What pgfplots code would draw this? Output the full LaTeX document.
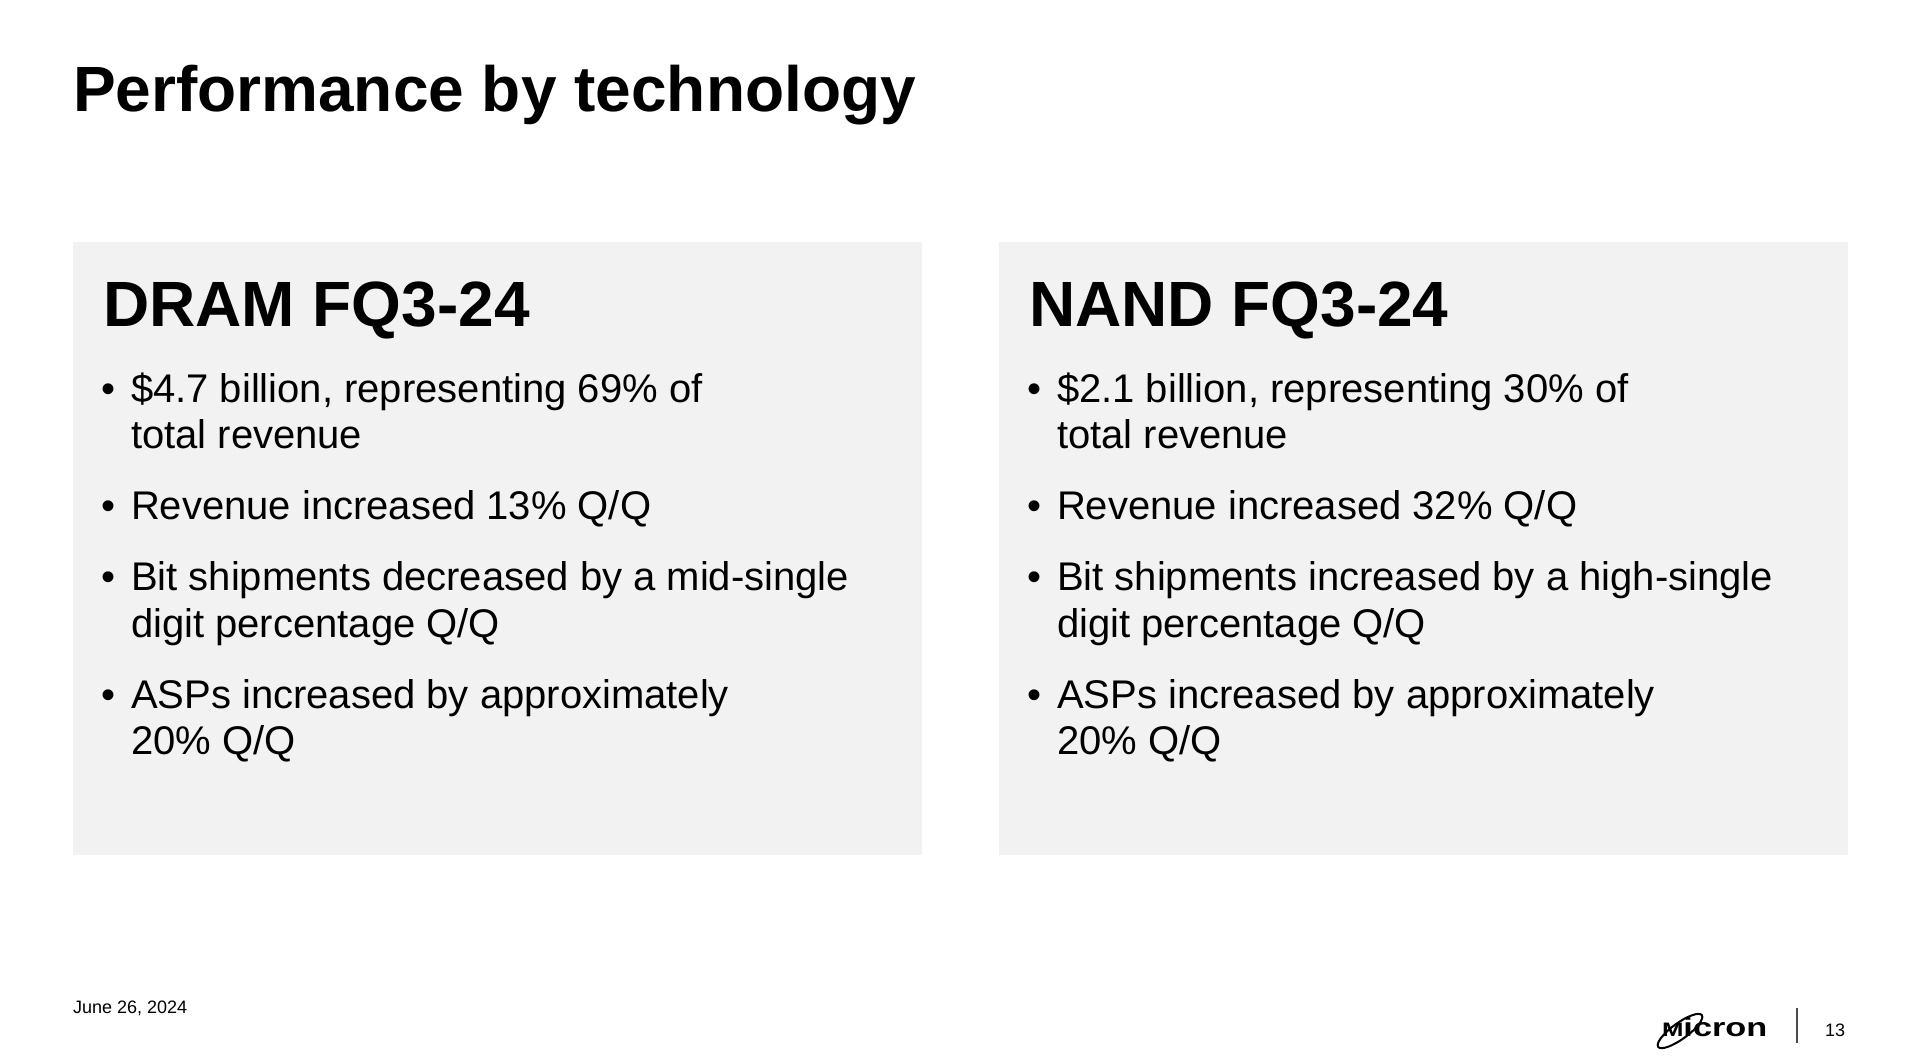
\documentclass[border=0pt]{standalone}
\usepackage{pgfplots}
\pgfplotsset{compat=1.18}
\usepackage{fontspec}
\setmainfont{Liberation Sans}
\definecolor{boxgray}{HTML}{F2F2F2}
\newcommand\tfont{\fontsize{32pt}{38pt}\selectfont\bfseries}
\newcommand\bfont{\fontsize{20pt}{23pt}\selectfont}
\tikzset{tx/.style={anchor=base west,inner sep=0pt,outer sep=0pt}}
\begin{document}
\begin{tikzpicture}
\begin{axis}[width=960pt,height=531pt,scale only axis,
  xmin=0,xmax=1920,ymin=0,ymax=1062,y dir=reverse,hide axis,clip=false]
% background and panels
\addplot[fill=white,draw=none] coordinates {(0,0) (1920,0) (1920,1062) (0,1062)};
\addplot[fill=boxgray,draw=none] coordinates {(73,242) (922,242) (922,855) (73,855)};
\addplot[fill=boxgray,draw=none] coordinates {(999,242) (1848,242) (1848,855) (999,855)};
% separator in footer
\addplot[black!70,line width=0.6pt] coordinates {(1797,1008) (1797,1043)};
% title
\node[tx] at (axis cs:73,111) {\tfont Performance by technology};
% left panel
\node[tx] at (axis cs:103,326) {\tfont DRAM FQ3-24};
\node[tx] at (axis cs:101,402) {\bfont •};
\node[tx] at (axis cs:131,402) {\bfont \$4.7 billion, representing 69\% of};
\node[tx] at (axis cs:131,448) {\bfont total revenue};
\node[tx] at (axis cs:101,519) {\bfont •};
\node[tx] at (axis cs:131,519) {\bfont Revenue increased 13\% Q/Q};
\node[tx] at (axis cs:101,590) {\bfont •};
\node[tx] at (axis cs:131,590) {\bfont Bit shipments decreased by a mid-single};
\node[tx] at (axis cs:131,637) {\bfont digit percentage Q/Q};
\node[tx] at (axis cs:101,708) {\bfont •};
\node[tx] at (axis cs:131,708) {\bfont ASPs increased by approximately};
\node[tx] at (axis cs:131,754) {\bfont 20\% Q/Q};
% right panel
\node[tx] at (axis cs:1029,326) {\tfont NAND FQ3-24};
\node[tx] at (axis cs:1027,402) {\bfont •};
\node[tx] at (axis cs:1057,402) {\bfont \$2.1 billion, representing 30\% of};
\node[tx] at (axis cs:1057,448) {\bfont total revenue};
\node[tx] at (axis cs:1027,519) {\bfont •};
\node[tx] at (axis cs:1057,519) {\bfont Revenue increased 32\% Q/Q};
\node[tx] at (axis cs:1027,590) {\bfont •};
\node[tx] at (axis cs:1057,590) {\bfont Bit shipments increased by a high-single};
\node[tx] at (axis cs:1057,637) {\bfont digit percentage Q/Q};
\node[tx] at (axis cs:1027,708) {\bfont •};
\node[tx] at (axis cs:1057,708) {\bfont ASPs increased by approximately};
\node[tx] at (axis cs:1057,754) {\bfont 20\% Q/Q};
% footer
\node[tx] at (axis cs:73,1013) {\fontsize{9pt}{10pt}\selectfont June 26, 2024};
\node[tx] at (axis cs:1825,1036) {\fontsize{9pt}{10pt}\selectfont 13};
\node[tx] at (axis cs:1662,1036) {\scalebox{1.32}[1]{\fontsize{13pt}{14pt}\selectfont\bfseries\scalebox{0.75}{M}icron}};
\draw[line width=1pt,rotate around={36:(axis cs:1680,1031)}] (axis cs:1680,1031) ellipse [x radius=13.5pt,y radius=4pt];
\end{axis}
\end{tikzpicture}
\end{document}
